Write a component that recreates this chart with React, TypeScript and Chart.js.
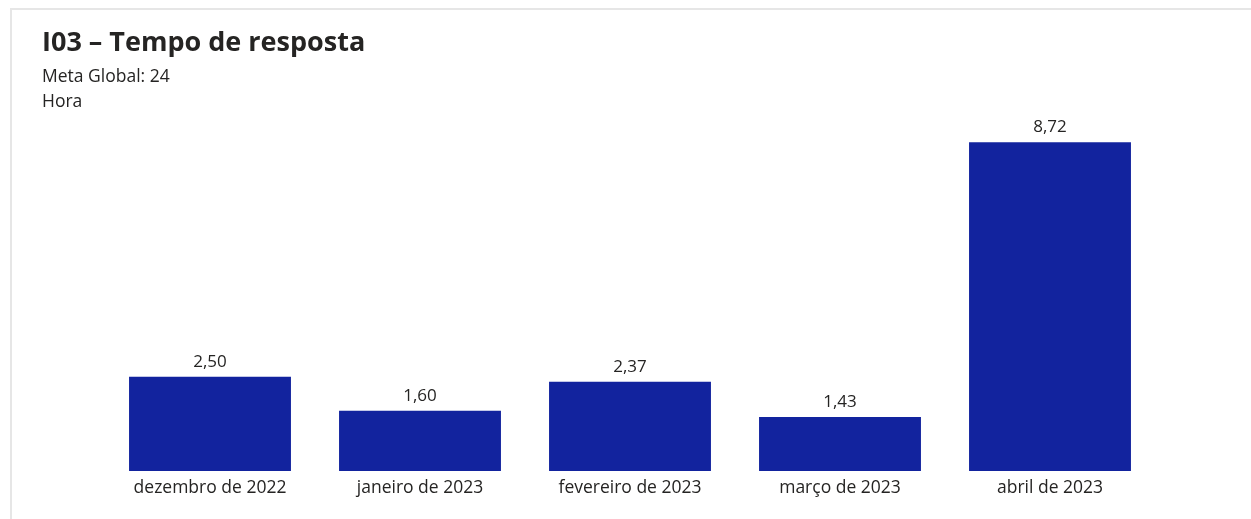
import React, { useEffect, useRef } from "react";
import { Chart, registerables } from "chart.js";

Chart.register(...registerables);

const categories = [
  "dezembro de 2022",
  "janeiro de 2023",
  "fevereiro de 2023",
  "março de 2023",
  "abril de 2023",
];
const values = [2.5, 1.6, 2.37, 1.43, 8.72];
const titleText = "I03 – Tempo de resposta";
const subtitleLines = ["Meta Global: 24", "Hora"];

const FONT = "'Open Sans', 'Noto Sans', sans-serif";
const BAR_COLOR = "#12239E";
const TEXT_COLOR = "#252423";

const valueLabels = {
  id: "valueLabels",
  afterDatasetsDraw(chart: any) {
    const ctx = chart.ctx;
    const meta = chart.getDatasetMeta(0);
    ctx.save();
    ctx.font = `17px ${FONT}`;
    ctx.fillStyle = TEXT_COLOR;
    ctx.textAlign = "center";
    ctx.textBaseline = "alphabetic";
    meta.data.forEach((bar: any, i: number) => {
      const v = chart.data.datasets[0].data[i] as number;
      const txt = v.toFixed(2).replace(".", ",");
      ctx.fillText(txt, bar.x, bar.y - 10);
    });
    ctx.restore();
  },
};

export default function App() {
  const ref = useRef<HTMLCanvasElement | null>(null);
  useEffect(() => {
    if (!ref.current) return;
    const chart = new Chart(ref.current, {
      type: "bar",
      data: {
        labels: categories,
        datasets: [
          {
            data: values,
            backgroundColor: BAR_COLOR,
            borderWidth: 0,
            categoryPercentage: 0.771,
            barPercentage: 1,
          },
        ],
      },
      options: {
        animation: false,
        responsive: false,
        maintainAspectRatio: false,
        layout: { padding: { left: 105, right: 96, top: 94, bottom: 13.6 } },
        plugins: {
          legend: { display: false },
          tooltip: { enabled: false },
          title: { display: false },
        },
        scales: {
          x: {
            grid: { display: false, drawTicks: false },
            border: { display: false },
            ticks: {
              color: TEXT_COLOR,
              font: { family: FONT, size: 17.5 },
              padding: 6.7,
              maxRotation: 0,
              autoSkip: false,
            },
          },
          y: {
            display: false,
            min: 0,
            max: 10,
          },
        },
      },
      plugins: [valueLabels],
    });
    return () => chart.destroy();
  }, []);

  return (
    <div
      style={{
        position: "fixed",
        left: 0,
        top: 0,
        width: 1251,
        height: 519,
        background: "#fff",
        overflow: "hidden",
      }}
    >
      <div
        style={{
          position: "absolute",
          left: 10,
          top: 8,
          right: 0,
          bottom: -2,
          borderTop: "2px solid #e6e6e6",
          borderLeft: "2px solid #e6e6e6",
        }}
      />
      <canvas
        ref={ref}
        width={1251}
        height={519}
        style={{ position: "absolute", left: 0, top: 0, width: 1251, height: 519 }}
      />
      <div
        style={{
          position: "absolute",
          left: 42,
          top: 24,
          fontFamily: FONT,
          fontWeight: 700,
          fontSize: 27,
          color: TEXT_COLOR,
          lineHeight: "34px",
          whiteSpace: "nowrap",
        }}
      >
        {titleText}
      </div>
      {subtitleLines.map((s, i) => (
        <div
          key={i}
          style={{
            position: "absolute",
            left: 42,
            top: 64 + i * 25,
            fontFamily: FONT,
            fontSize: 17.5,
            color: TEXT_COLOR,
            lineHeight: "22px",
            whiteSpace: "nowrap",
          }}
        >
          {s}
        </div>
      ))}
    </div>
  );
}
